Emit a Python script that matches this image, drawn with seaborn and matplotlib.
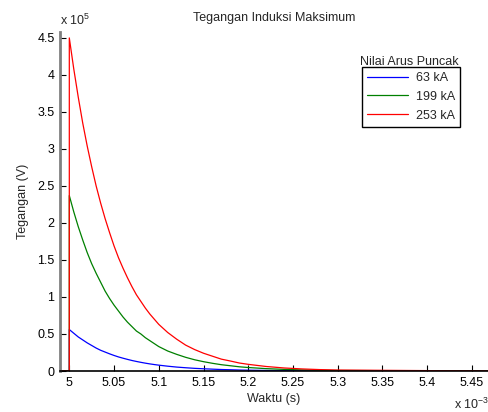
import matplotlib
matplotlib.use("Agg")
import matplotlib.pyplot as plt
import pandas as pd
import seaborn as sns
from matplotlib.ticker import FuncFormatter

# Data (time in units of 1e-3 s, voltage in units of 1e5 V) #

waktu = [4.99, 5.00, 5.00, 5.005, 5.01, 5.015, 5.02, 5.025, 5.03, 5.035, 5.04, 5.045,
         5.05, 5.055, 5.06, 5.065, 5.07, 5.075, 5.08, 5.085, 5.09, 5.095, 5.10,
         5.11, 5.12, 5.13, 5.14, 5.15, 5.16, 5.17, 5.18, 5.19, 5.20,
         5.22, 5.24, 5.26, 5.28, 5.30, 5.47]

arus_63 = [0, 0, 0.56, 0.51, 0.46, 0.42, 0.38, 0.345, 0.31, 0.28, 0.256, 0.232,
           0.21, 0.19, 0.173, 0.157, 0.142, 0.129, 0.117, 0.106, 0.096, 0.087, 0.079,
           0.065, 0.053, 0.044, 0.036, 0.030, 0.025, 0.020, 0.017, 0.013, 0.011,
           0.0076, 0.0051, 0.0035, 0.0024, 0.0016, 0]

arus_199 = [0, 0, 2.37, 2.15, 1.95, 1.77, 1.60, 1.45, 1.32, 1.20, 1.08, 0.98,
            0.89, 0.81, 0.73, 0.66, 0.60, 0.54, 0.50, 0.45, 0.41, 0.37, 0.33,
            0.27, 0.225, 0.185, 0.152, 0.126, 0.104, 0.085, 0.071, 0.057, 0.047,
            0.032, 0.022, 0.015, 0.010, 0.0066, 0]

arus_253 = [0, 0, 4.50, 4.08, 3.70, 3.35, 3.04, 2.76, 2.50, 2.27, 2.06, 1.87,
            1.69, 1.53, 1.39, 1.26, 1.14, 1.03, 0.94, 0.85, 0.77, 0.70, 0.63,
            0.52, 0.43, 0.35, 0.29, 0.24, 0.20, 0.16, 0.135, 0.108, 0.09,
            0.061, 0.041, 0.028, 0.019, 0.013, 0]

labels = ["63 kA", "199 kA", "253 kA"]
colors = ["#0000ff", "#008000", "#ff0000"]

x_ticks = [5, 5.05, 5.1, 5.15, 5.2, 5.25, 5.3, 5.35, 5.4, 5.45]
y_ticks = [0, 0.5, 1, 1.5, 2, 2.5, 3, 3.5, 4, 4.5]

# Plot #

sns.set_style("white")
plt.rcParams['font.family'] = ['Liberation Sans', 'DejaVu Sans']
plt.rcParams['mathtext.fontset'] = 'custom'
plt.rcParams['mathtext.rm'] = 'Liberation Sans'
plt.rcParams['mathtext.it'] = 'Liberation Sans'

fs = 9

fig = plt.figure(figsize=(4.89, 4.12), dpi=100)
ax = fig.add_axes([60 / 489, 1 - 371 / 412, 428 / 489, 339 / 412])

for values, label, color in zip([arus_63, arus_199, arus_253], labels, colors):
    df = pd.DataFrame({"Waktu": waktu, "Tegangan": values})
    sns.lineplot(data=df, x="Waktu", y="Tegangan", color=color, label=label,
                 estimator=None, sort=False, linewidth=0.9, ax=ax)

ax.set_xlim(4.9896, 5.468)
ax.set_ylim(0, 4.58)
ax.set_xticks(x_ticks)
ax.set_yticks(y_ticks)
fmt = FuncFormatter(lambda v, p: "%g" % round(v, 4))
ax.xaxis.set_major_formatter(fmt)
ax.yaxis.set_major_formatter(fmt)
ax.tick_params(direction='in', length=4, width=0.8, labelsize=fs, colors='black',
               bottom=True, left=True, top=False, right=False, pad=4)

for side in ['top', 'right']:
    ax.spines[side].set_visible(False)
ax.spines['left'].set_color('#808080')
ax.spines['left'].set_linewidth(2)
ax.spines['bottom'].set_color('black')
ax.spines['bottom'].set_linewidth(1.2)

ax.set_title("Tegangan Induksi Maksimum", fontsize=fs, pad=8)
ax.set_xlabel("Waktu (s)", fontsize=fs, labelpad=3)
ax.set_ylabel("Tegangan (V)", fontsize=fs, labelpad=6)

ax.text(0.0, 1.012, r"x 10$^{5}$", transform=ax.transAxes, fontsize=fs, ha='left', va='bottom')
ax.text(0.92, -0.075, r"x 10$^{-3}$", transform=ax.transAxes, fontsize=fs, ha='left', va='top')

leg = ax.legend(loc='upper right', bbox_to_anchor=(0.935, 0.897), borderaxespad=0,
                fancybox=False, edgecolor='black', framealpha=1, fontsize=fs,
                handlelength=3.3, handletextpad=0.6, labelspacing=0.55,
                borderpad=0.4)
leg.get_frame().set_linewidth(1.0)
ax.text(0.817, 0.903, "Nilai Arus Puncak", transform=ax.transAxes, fontsize=fs,
        ha='center', va='baseline')

plt.savefig("out.png", dpi=100)
